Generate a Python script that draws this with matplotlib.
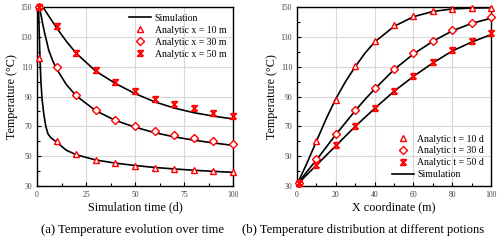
import matplotlib
matplotlib.use("Agg")
import matplotlib.pyplot as plt
from matplotlib.path import Path
from matplotlib.ticker import MultipleLocator

plt.rcParams['font.family'] = ['Liberation Serif', 'DejaVu Serif']

FONTSIZE_TICK = 5.5
FONTSIZE_LABEL = 8.7
FONTSIZE_CAPTION = 9.1
FONTSIZE_LEGEND = 7
RED = '#ff0000'

# (a) temperature vs time -- simulation curves
sim_t = [0, 0.8, 1.2, 1.5, 2, 2.6, 3.5, 4.5, 5.6, 7, 10, 15, 20, 30, 40, 50, 60, 70, 80, 90, 100]
sim_x10 = [150, 148, 130, 116, 100, 88, 78, 70, 65, 62.5, 59.5, 54, 51, 47.5, 45.4, 43.8, 42.5, 41.5, 40.6, 39.9, 39.2]
sim_t2 = [0, 1, 2, 3, 4, 6, 8, 10, 15, 20, 30, 40, 50, 60, 70, 80, 90, 100]
sim_x30 = [150, 150, 145, 138, 132, 121, 114, 108.5, 98, 90.5, 80.5, 74, 69.5, 65.8, 63, 60.8, 58.9, 57.3]
sim_t3 = [0, 3, 5, 7, 10, 15, 20, 30, 40, 50, 60, 70, 80, 90, 100]
sim_x50 = [150, 150, 146, 142, 136, 127, 119, 107, 98.8, 92, 86.5, 82.3, 79.2, 76.9, 75]

# (a) analytic points
ana_t = [1, 10, 20, 30, 40, 50, 60, 70, 80, 90, 100]
ana_x10 = [116, 60, 51.5, 47.5, 45.3, 43.5, 42.3, 41.3, 40.5, 40, 39.3]
ana_x30 = [150, 110, 91, 81, 74.5, 70, 67, 64, 62, 60, 58.5]
ana_x50 = [150, 137, 119.5, 108, 99.5, 93.5, 88.5, 85, 82, 79, 77]

# (b) temperature vs position -- simulation curves
sim_x = [0, 5, 10, 15, 20, 25, 30, 35, 40, 50, 60, 70, 80, 90, 100]
sim_t10 = [31, 45, 60, 75, 88.5, 100, 110, 119, 126.5, 137, 143.5, 147, 148.7, 149.3, 149.5]
sim_t30 = [31, 39.5, 47.5, 56, 64.5, 72.5, 80.5, 88, 95, 108, 118.5, 127, 134, 139, 142.5]
sim_t50 = [31, 37.5, 44, 50.5, 57, 63.5, 70, 76, 82, 93.5, 103.5, 112.5, 120.5, 126.5, 131.5]

# (b) analytic points
ana_x = [1, 10, 20, 30, 40, 50, 60, 70, 80, 90, 100]
ana_t10 = [32, 60, 88, 110.5, 127, 138, 144, 147.5, 149, 149.5, 149.5]
ana_t30 = [32, 48, 65, 81, 95.5, 108.5, 119, 127.5, 134.5, 139.5, 143]
ana_t50 = [32, 44, 57.5, 70.5, 82.5, 94, 104, 113, 121, 127.5, 132.5]

# excel-like "star": an X closed with bars on top and bottom
STAR = Path([(-1, 1), (1, 1), (-1, -1), (1, -1), (-1, 1), (1, -1)],
            [Path.MOVETO, Path.LINETO, Path.LINETO, Path.LINETO,
             Path.MOVETO, Path.LINETO])


def style_axes(ax, xmajor, xminor, xlabel):
    ax.set_ylim(30, 150)
    ax.set_xlim(0, 100)
    ax.xaxis.set_major_locator(MultipleLocator(xmajor))
    ax.xaxis.set_minor_locator(MultipleLocator(xminor))
    ax.set_yticks(range(30, 151, 20))
    ax.yaxis.set_minor_locator(MultipleLocator(10))
    ax.grid(True, which='major', color='#d9d9d9', linewidth=0.8)
    ax.set_axisbelow(True)
    ax.tick_params(which='both', direction='in', labelsize=FONTSIZE_TICK,
                   labelcolor='#444444', top=False, right=False)
    ax.tick_params(which='major', length=3, width=0.8)
    ax.tick_params(which='minor', length=2, width=0.8)
    for s in ax.spines.values():
        s.set_linewidth(1.0)
        s.set_color('black')
    ax.set_xlabel(xlabel, fontsize=FONTSIZE_LABEL, labelpad=2)
    ax.set_ylabel('Temperature (\u00b0C)', fontsize=FONTSIZE_LABEL, labelpad=2)


fig = plt.figure(figsize=(5.0, 2.42), dpi=100)
ax1 = fig.add_axes([0.074, 0.231, 0.392, 0.740])
ax2 = fig.add_axes([0.594, 0.231, 0.388, 0.740])

mk = dict(linestyle='none', color=RED, markerfacecolor='white', markersize=4.5,
          markeredgewidth=1.0, clip_on=False, zorder=3)
mk_d = dict(mk, markersize=3.8)
mk_s = dict(mk, markersize=4.0, markeredgewidth=1.3)

# (a)
ax1.plot(sim_t, sim_x10, color='black', linewidth=1.2, label='Simulation')
ax1.plot(sim_t2, sim_x30, color='black', linewidth=1.2)
ax1.plot(sim_t3, sim_x50, color='black', linewidth=1.2)
ax1.plot(ana_t, ana_x10, marker='^', label='Analytic x = 10 m', **mk)
ax1.plot(ana_t, ana_x30, marker='D', label='Analytic x = 30 m', **mk_d)
ax1.plot(ana_t, ana_x50, marker=STAR, label='Analytic x = 50 m', **mk_s)
style_axes(ax1, 25, 12.5, 'Simulation time (d)')
ax1.legend(loc='upper right', frameon=False, fontsize=FONTSIZE_LEGEND,
           handlelength=2.2, handletextpad=0.4, labelspacing=0.3,
           borderaxespad=0.3)

# (b)
ax2.plot(ana_x, ana_t10, marker='^', label='Analytic t = 10 d', **mk)
ax2.plot(ana_x, ana_t30, marker='D', label='Analytic t = 30 d', **mk_d)
ax2.plot(ana_x, ana_t50, marker=STAR, label='Analytic t = 50 d', **mk_s)
ax2.plot(sim_x, sim_t10, color='black', linewidth=1.2, label='Simulation')
ax2.plot(sim_x, sim_t30, color='black', linewidth=1.2)
ax2.plot(sim_x, sim_t50, color='black', linewidth=1.2)
style_axes(ax2, 20, 10, 'X coordinate (m)')
ax2.legend(loc='lower right', frameon=False, fontsize=FONTSIZE_LEGEND,
           handlelength=2.2, handletextpad=0.4, labelspacing=0.3,
           borderaxespad=0.3)

fig.text(0.265, 0.05, '(a) Temperature evolution over time', ha='center',
         va='center', fontsize=FONTSIZE_CAPTION)
fig.text(0.726, 0.05, '(b) Temperature distribution at different potions',
         ha='center', va='center', fontsize=FONTSIZE_CAPTION)

fig.savefig('out.png', dpi=100)
